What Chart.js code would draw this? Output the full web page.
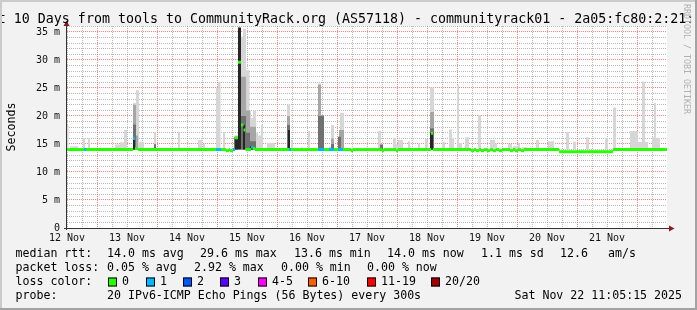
<!DOCTYPE html>
<html>
<head>
<meta charset="utf-8">
<title>communityrack01 - last 10 days</title>
<script src="https://cdn.jsdelivr.net/npm/chart.js@4.4.1/dist/chart.umd.min.js"></script>
<style>
  html, body { margin: 0; padding: 0; background: #f2f2f2; }
  #wrap { position: relative; width: 697px; height: 310px; }
  canvas { display: block; }
</style>
</head>
<body>
<div id="wrap"><canvas id="chart" width="697" height="310"></canvas></div>
<script>
// time axis: hours after 12 Nov 00:00, ten days wide
const X_MIN = 0, X_MAX = 240;
const Y_MAX = 36.07;
const BASE = 14.0; // smoke is filled up from the median floor

const dayLabels = ["12 Nov", "13 Nov", "14 Nov", "15 Nov", "16 Nov", "17 Nov", "18 Nov", "19 Nov", "20 Nov", "21 Nov"];
const yTickValues = [0, 5, 10, 15, 20, 25, 30, 35];
const yTickLabels = ["0", "5 m", "10 m", "15 m", "20 m", "25 m", "30 m", "35 m"];

const lossColors = ["#26ff00", "#00b8ff", "#0059ff", "#5e00ff", "#ff00ff", "#ff5e00", "#ff0000", "#a10000"];
const lossLabels = ["0", "1", "2", "3", "4-5", "6-10", "11-19", "20/20"];

// smoke layers: [from hour, to hour, ms]
const smokeLight = [
  [0, 0.6, 18.4], [1.2, 4.4, 14.6], [6.4, 7.2, 16.0], [8.4, 9.2, 16.0],
  [19.2, 21.2, 14.9], [21.2, 22.8, 15.3], [22.8, 24.0, 17.5],
  [26.4, 27.6, 22.3], [27.6, 28.8, 24.6], [28.8, 30.8, 15.4],
  [34.8, 35.6, 17.1], [44.4, 45.2, 17.2], [52.4, 54.0, 15.7], [54.4, 55.2, 15.0],
  [59.6, 60.4, 25.0], [60.4, 61.4, 26.1], [62.4, 63.2, 17.1],
  [66.8, 68.4, 16.5], [68.4, 69.6, 35.8], [69.6, 70.4, 34.2], [70.4, 71.6, 35.6],
  [71.6, 73.0, 28.2], [73.0, 73.6, 21.0], [73.6, 74.4, 19.6], [74.4, 75.6, 21.0],
  [75.6, 76.4, 17.0], [76.4, 77.6, 16.5], [77.6, 78.4, 18.4],
  [80.0, 83.2, 15.2], [88.0, 89.2, 22.0], [89.6, 90.4, 15.7], [93.6, 94.4, 14.4],
  [96.4, 97.2, 17.3], [100.4, 101.6, 25.8], [101.6, 102.8, 20.2],
  [104.8, 105.6, 14.5], [105.6, 106.8, 18.4], [108.4, 109.2, 16.3], [109.2, 110.8, 20.6],
  [124.4, 125.6, 17.3], [125.6, 126.4, 14.9], [130.4, 131.6, 16.1], [131.6, 132.4, 14.9],
  [132.4, 134.4, 15.7], [136.4, 137.2, 15.5], [140.4, 141.2, 15.1], [143.2, 144.4, 15.9],
  [145.2, 146.8, 25.1], [150.0, 151.2, 15.4], [152.8, 154.0, 17.6], [154.0, 154.8, 16.1],
  [156.0, 156.8, 25.5], [156.8, 158.0, 15.2], [159.2, 160.8, 16.2], [164.4, 165.6, 20.2],
  [169.2, 171.2, 15.7], [171.2, 172.0, 15.1], [176.4, 178.0, 15.0], [178.4, 180.4, 14.6],
  [180.4, 181.2, 15.1], [182.0, 184.0, 14.4], [187.6, 188.8, 15.7], [192.4, 194.8, 15.5],
  [199.6, 200.8, 17.1], [202.4, 203.6, 15.4], [207.6, 208.8, 16.2], [215.2, 216.4, 16.1],
  [218.4, 219.6, 21.5], [225.2, 228.4, 17.3], [228.4, 230.0, 15.4], [230.0, 231.2, 26.1],
  [231.2, 232.4, 15.4], [234.0, 234.8, 16.2], [234.8, 235.6, 22.3], [235.6, 237.2, 16.1]
];
const smokeMid = [
  [26.4, 27.6, 22.0], [27.6, 28.4, 16.5], [34.8, 35.6, 15.0],
  [66.8, 68.4, 16.3], [69.6, 71.6, 27.0], [71.6, 73.2, 21.0], [73.2, 75.6, 18.1],
  [88.0, 89.2, 20.0], [100.4, 101.6, 25.6], [101.6, 102.8, 20.2],
  [105.6, 106.8, 16.0], [108.8, 110.8, 17.5], [145.2, 146.8, 20.7]
];
const smokeDark = [
  [26.4, 27.6, 18.5], [34.8, 35.6, 14.9], [66.8, 68.4, 16.0], [69.6, 71.6, 20.0],
  [71.6, 73.2, 17.0], [73.2, 75.6, 15.5], [88.0, 89.2, 18.4], [100.4, 102.8, 20.0],
  [105.6, 106.8, 15.0], [108.4, 109.6, 16.3], [125.2, 126.4, 14.9], [145.2, 146.8, 17.8]
];
const smokeCore = [
  [26.4, 27.2, 16.0], [67.2, 68.4, 16.1], [68.4, 69.6, 35.8], [70.4, 71.2, 18.4],
  [73.2, 74.4, 14.6], [88.4, 89.2, 17.5], [145.2, 146.4, 16.9]
];

// median rtt: [hour, ms] - value holds until the next entry
const medianSteps = [
  [0, 14.0], [26.4, 16.0], [27.2, 14.2], [28.4, 14.0],
  [63.6, 13.8], [64.8, 14.0], [65.2, 13.8], [66.4, 14.0],
  [67.2, 16.1], [68.4, 29.6], [69.6, 18.4], [70.6, 17.5], [71.4, 14.0],
  [73.6, 14.4], [74.4, 14.2], [75.2, 14.0],
  [113.6, 13.8], [114.4, 14.0], [126.0, 13.8], [126.8, 14.0], [131.6, 13.8], [132.4, 14.0],
  [145.6, 16.9], [146.4, 14.0],
  [161.6, 13.8], [162.8, 14.0], [163.6, 13.8], [164.8, 14.0], [165.6, 13.8], [166.8, 14.0],
  [168.0, 13.8], [169.2, 14.0], [170.4, 13.8], [171.6, 14.0], [172.8, 13.8], [174.0, 14.0],
  [177.2, 13.8], [178.4, 14.0], [179.2, 13.8], [180.4, 14.0], [181.6, 13.8], [182.8, 14.0],
  [196.8, 13.6], [218.4, 14.0]
];
// packet loss bucket (index into lossColors): [hour, bucket]
const lossSteps = [
  [0, 0], [6.8, 1], [7.6, 0], [26.4, 1], [27.2, 0], [59.6, 1], [61.6, 0],
  [66.4, 1], [67.2, 0], [73.6, 1], [74.4, 0], [88.8, 1], [89.6, 0],
  [100.4, 1], [102.8, 0], [104.8, 1], [106.8, 0], [108.4, 1], [110.4, 0]
];

const titleText = "Last 10 Days from tools to CommunityRack.org (AS57118) - communityrack01 - 2a05:fc80:2:21::";
// legend rows: [text, x]
const statsRtt = [["median rtt:", 15.5], ["14.0 ms avg", 107], ["29.6 ms max", 200], ["13.6 ms min", 294],
  ["14.0 ms now", 387], ["1.1 ms sd", 481], ["12.6", 560], ["am/s", 608]];
const statsLoss = [["packet loss:", 15.5], ["0.05 % avg", 107], ["2.92 % max", 194], ["0.00 % min", 281], ["0.00 % now", 367]];
const lossBoxX = [108, 146, 183, 220, 258, 308, 367, 431];
const probeLine = [["probe:", 15.5], ["20 IPv6-ICMP Echo Pings (56 Bytes) every 300s", 107]];
const stampText = "Sat Nov 22 11:05:15 2025";

const MONO = '"DejaVu Sans Mono", "Liberation Mono", monospace';

function stepAt(steps, t) {
  let v = steps[0][1];
  for (const [h, val] of steps) { if (h <= t) v = val; else break; }
  return v;
}

function smokeDataset(spikes, color) {
  const pts = [{ x: X_MIN, y: BASE }];
  spikes.forEach(([s, e, v]) => { pts.push({ x: s, y: v }, { x: e, y: BASE }); });
  pts.push({ x: X_MAX, y: BASE });
  return {
    data: pts, stepped: true, fill: { value: BASE },
    backgroundColor: color, borderColor: "rgba(0,0,0,0)", borderWidth: 0, pointRadius: 0,
  };
}

// median split in runs of equal value + loss, broken where it jumps
const cuts = [...new Set([X_MIN, ...medianSteps.map(s => s[0]), ...lossSteps.map(s => s[0]), X_MAX])].sort((a, b) => a - b);
const runs = [];
for (let i = 0; i < cuts.length - 1; i++) {
  const v = stepAt(medianSteps, cuts[i]), l = stepAt(lossSteps, cuts[i]);
  const last = runs[runs.length - 1];
  if (last && last.v === v && last.l === l) last.e = cuts[i + 1];
  else runs.push({ s: cuts[i], e: cuts[i + 1], v, l });
}
const medianPts = [], medianLoss = [];
runs.forEach(r => {
  medianPts.push({ x: r.s, y: r.v }, { x: r.e, y: r.v }, { x: r.e, y: null });
  medianLoss.push(r.l, r.l, r.l);
});

const frame = {
  id: "frame",
  beforeDraw(chart) {
    const { ctx, chartArea: a, width, height } = chart;
    ctx.save();
    ctx.fillStyle = "#f2f2f2";
    ctx.fillRect(0, 0, width, height);
    ctx.fillStyle = "#ffffff";
    ctx.fillRect(a.left, a.top, a.right - a.left, a.bottom - a.top);
    ctx.restore();
  },
  afterDraw(chart) {
    const { ctx, chartArea: a, width, height } = chart;
    ctx.save();
    // axes with arrows
    ctx.strokeStyle = "#333";
    ctx.lineWidth = 1;
    ctx.beginPath();
    ctx.moveTo(a.left - 0.5, a.top - 1); ctx.lineTo(a.left - 0.5, a.bottom + 2);
    ctx.moveTo(a.left - 3, a.bottom + 0.5); ctx.lineTo(a.right + 3, a.bottom + 0.5);
    ctx.stroke();
    ctx.fillStyle = "#8b1a1a";
    ctx.beginPath();
    ctx.moveTo(a.left - 0.5, a.top - 5.5); ctx.lineTo(a.left - 3.5, a.top); ctx.lineTo(a.left + 2.5, a.top);
    ctx.fill();
    ctx.beginPath();
    ctx.moveTo(a.right + 7.5, a.bottom + 0.5); ctx.lineTo(a.right + 2, a.bottom - 2.5); ctx.lineTo(a.right + 2, a.bottom + 3.5);
    ctx.fill();

    // title
    ctx.fillStyle = "#000";
    ctx.font = "13.3px " + MONO;
    ctx.textBaseline = "alphabetic";
    ctx.textAlign = "left";
    ctx.fillText(titleText, -26.2, 23);

    // vertical axis title
    ctx.font = "11.6px " + MONO;
    ctx.save();
    ctx.translate(11.5, (a.top + a.bottom) / 2);
    ctx.rotate(-Math.PI / 2);
    ctx.textAlign = "center";
    ctx.textBaseline = "middle";
    ctx.fillText("Seconds", 0, 0);
    ctx.restore();

    // watermark
    ctx.save();
    ctx.translate(686.5, 4);
    ctx.rotate(Math.PI / 2);
    ctx.font = "8.3px " + MONO;
    ctx.fillStyle = "#b0b0b0";
    ctx.textBaseline = "middle";
    ctx.fillText("RRDTOOL / TOBI OETIKER", 0, 0);
    ctx.restore();

    // legend block
    ctx.textBaseline = "middle";
    ctx.fillStyle = "#000";
    statsRtt.forEach(([t, x]) => ctx.fillText(t, x, 254));
    statsLoss.forEach(([t, x]) => ctx.fillText(t, x, 268));
    ctx.fillText("loss color:", 15.5, 282);
    lossLabels.forEach((lab, i) => {
      const bx = lossBoxX[i];
      ctx.fillStyle = lossColors[i];
      ctx.fillRect(bx, 277.5, 9, 9);
      ctx.strokeStyle = "#000";
      ctx.strokeRect(bx + 0.5, 278, 8, 8);
      ctx.fillStyle = "#000";
      ctx.fillText(lab, bx + 14, 282);
    });
    probeLine.forEach(([t, x]) => ctx.fillText(t, x, 296));
    ctx.textAlign = "right";
    ctx.fillText(stampText, 682, 296);

    // frame
    ctx.fillStyle = "#cbcbcb";
    ctx.fillRect(0, 0, width, 2);
    ctx.fillRect(0, 0, 2, height);
    ctx.fillStyle = "#a3a3a3";
    ctx.fillRect(0, height - 2, width, 2);
    ctx.fillRect(width - 2, 0, 2, height);
    ctx.restore();
  }
};

const minorGrid = "rgba(140,140,140,0.6)";
const majorGrid = "rgba(255,80,80,0.7)";

new Chart(document.getElementById("chart"), {
  type: "line",
  data: {
    datasets: [
      {
        data: medianPts, borderColor: lossColors[0], borderWidth: 3, borderCapStyle: "butt",
        segment: { borderColor: c => lossColors[medianLoss[c.p0DataIndex]] },
        spanGaps: false, fill: false, pointRadius: 0, tension: 0,
      },
      smokeDataset(smokeCore, "#262626"),
      smokeDataset(smokeDark, "#707070"),
      smokeDataset(smokeMid, "#a6a6a6"),
      smokeDataset(smokeLight, "#d6d6d6"),
    ],
  },
  options: {
    responsive: false, animation: false, devicePixelRatio: 1,
    layout: { padding: { left: 0, right: 30, top: 26, bottom: 0 } },
    plugins: { legend: { display: false }, tooltip: { enabled: false } },
    elements: { point: { radius: 0 } },
    scales: {
      x: {
        type: "linear", min: X_MIN, max: X_MAX,
        afterBuildTicks: s => { const t = []; for (let h = X_MIN; h < X_MAX; h += 6) t.push({ value: h }); s.ticks = t; },
        afterFit: s => { s.height = 82; },
        ticks: {
          autoSkip: false, maxRotation: 0, padding: 4, color: "#111",
          font: { family: MONO, size: 10 },
          callback: v => (v % 24 === 0 ? dayLabels[v / 24] : ""),
        },
        grid: { color: c => (c.tick && c.tick.value % 24 === 12 ? majorGrid : minorGrid), lineWidth: 1, drawTicks: false },
        border: { display: false, dash: [1, 1] },
      },
      y: {
        min: 0, max: Y_MAX,
        afterBuildTicks: s => { const t = []; for (let v = 0; v <= 36; v++) t.push({ value: v }); s.ticks = t; },
        afterFit: s => { s.width = 67; },
        ticks: {
          autoSkip: false, padding: 7, color: "#111", font: { family: MONO, size: 10 },
          callback: v => { const i = yTickValues.indexOf(v); return i >= 0 ? yTickLabels[i] : ""; },
        },
        grid: { color: c => (c.tick && c.tick.value % 5 === 0 ? majorGrid : minorGrid), lineWidth: 1, drawTicks: false },
        border: { display: false, dash: [1, 1] },
      },
    },
  },
  plugins: [frame],
});
</script>
</body>
</html>
